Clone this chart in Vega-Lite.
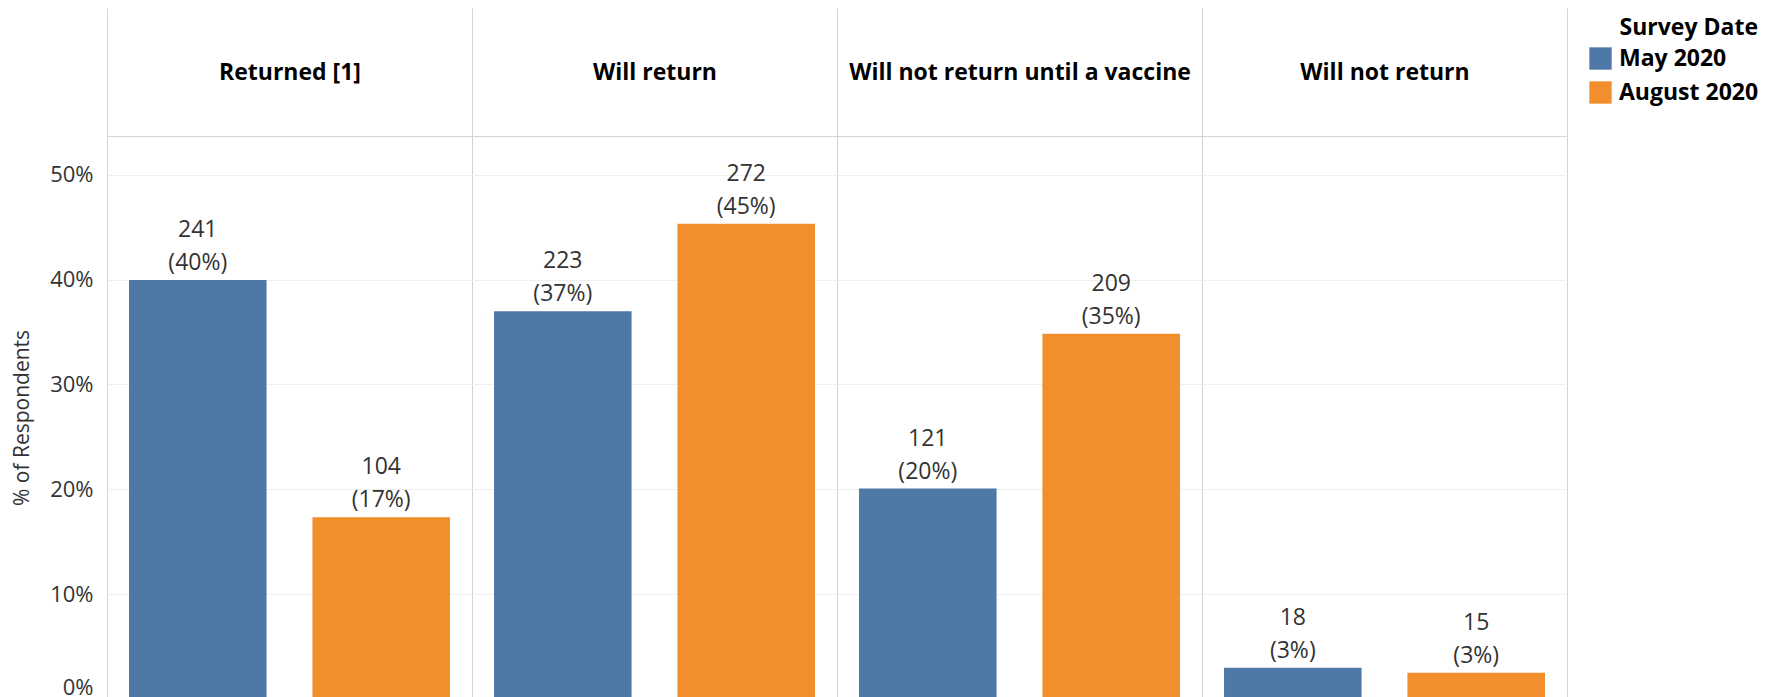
{
  "$schema": "https://vega.github.io/schema/vega-lite/v6.json",
  "autosize": "none",
  "width": 1460,
  "height": 563,
  "padding": {"left": 107, "top": 136, "right": 218, "bottom": 0},
  "config": {"font": "Open Sans", "view": {"stroke": null}},
  "data": {
    "values": [
      {"cat": "Returned [1]", "date": "May 2020", "count": 241, "pct": 0.3997, "label": "241\n(40%)"},
      {"cat": "Returned [1]", "date": "August 2020", "count": 104, "pct": 0.1733, "label": "104\n(17%)"},
      {"cat": "Will return", "date": "May 2020", "count": 223, "pct": 0.3698, "label": "223\n(37%)"},
      {"cat": "Will return", "date": "August 2020", "count": 272, "pct": 0.4533, "label": "272\n(45%)"},
      {"cat": "Will not return until a vaccine", "date": "May 2020", "count": 121, "pct": 0.2007, "label": "121\n(20%)"},
      {"cat": "Will not return until a vaccine", "date": "August 2020", "count": 209, "pct": 0.3483, "label": "209\n(35%)"},
      {"cat": "Will not return", "date": "May 2020", "count": 18, "pct": 0.0299, "label": "18\n(3%)"},
      {"cat": "Will not return", "date": "August 2020", "count": 15, "pct": 0.025, "label": "15\n(3%)"}
    ]
  },
  "encoding": {
    "x": {
      "field": "cat",
      "type": "nominal",
      "sort": ["Returned [1]", "Will return", "Will not return until a vaccine", "Will not return"],
      "scale": {"paddingInner": 0, "paddingOuter": 0},
      "axis": {
        "orient": "top",
        "title": null,
        "tickBand": "extent",
        "tickSize": 128,
        "tickColor": "#d4d4d4",
        "domainColor": "#d4d4d4",
        "grid": true,
        "gridColor": "#d4d4d4",
        "labelAngle": 0,
        "labelFontWeight": "bold",
        "labelFontSize": 23,
        "labelColor": "#000000",
        "labelPadding": -64,
        "labelBaseline": "middle",
        "labelLimit": 500,
        "labelOverlap": false
      }
    },
    "xOffset": {
      "field": "date",
      "type": "nominal",
      "sort": ["May 2020", "August 2020"],
      "scale": {"paddingInner": 0.25, "paddingOuter": 0.12}
    },
    "y": {
      "field": "pct",
      "type": "quantitative",
      "scale": {"domain": [0, 0.537], "nice": false, "zero": true},
      "axis": {
        "values": [0, 0.1, 0.2, 0.3, 0.4, 0.5],
        "format": ".0%",
        "title": "% of Respondents",
        "domain": false,
        "ticks": false,
        "labelFontSize": 22,
        "labelColor": "#333333",
        "labelPadding": 14,
        "labelFlush": true,
        "gridColor": "#efefef",
        "titleFontWeight": "normal",
        "titleFontSize": 21,
        "titleColor": "#333333",
        "titlePadding": 17
      }
    }
  },
  "layer": [
    {
      "mark": {"type": "bar"},
      "encoding": {
        "color": {
          "field": "date",
          "type": "nominal",
          "scale": {"domain": ["May 2020", "August 2020"], "range": ["#4e79a7", "#f28e2b"]},
          "legend": {
            "orient": "none",
            "legendX": 1482,
            "legendY": -119,
            "title": "Survey Date",
            "titleFontSize": 23,
            "titleFontWeight": "bold",
            "titleColor": "#000000",
            "titleAnchor": "end",
            "titleAlign": "right",
            "titlePadding": 7,
            "labelFontSize": 23,
            "labelFontWeight": "bold",
            "labelColor": "#000000",
            "labelOffset": 7,
            "symbolType": "square",
            "symbolSize": 500,
            "symbolStrokeWidth": 0,
            "symbolOpacity": 1,
            "rowPadding": 10
          }
        }
      }
    },
    {
      "mark": {"type": "text", "baseline": "bottom", "dy": -38, "lineBreak": "\n", "lineHeight": 33, "fontSize": 23, "color": "#333333"},
      "encoding": {"text": {"field": "label"}}
    }
  ]
}
